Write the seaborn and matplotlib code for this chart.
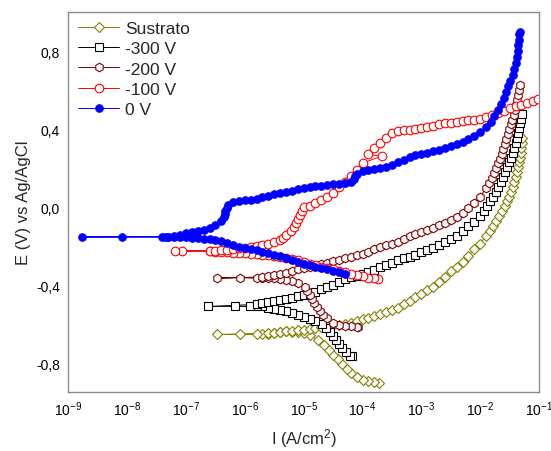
import numpy as np
import matplotlib
matplotlib.use("Agg")
import matplotlib.pyplot as plt
import seaborn as sns
from matplotlib.ticker import LogLocator, MultipleLocator, FuncFormatter, NullFormatter, FixedLocator

sns.set_style("white")
plt.rcParams["font.family"] = ["Liberation Sans", "DejaVu Sans"]
plt.rcParams["mathtext.default"] = "regular"

# ---------------- data: log10 of current density (A/cm2) and potential (V) -------------
# each scan: cathodic branch (from start potential up to Ecorr), then anodic branch
series_names = ["Sustrato", "-300 V", "-200 V", "-100 V", "0 V"]

logi_sub = [-3.716, -3.8, -3.9, -4.0, -4.1, -4.2, -4.269, -4.345, -4.422, -4.498,
            -4.575, -4.660, -4.762, -4.889, -5.0, -5.1, -5.2, -5.3, -5.4, -5.5,
            -5.6, -5.7, -5.79, -6.08, -6.47,
            -5.6, -5.5, -5.4, -5.3, -5.2, -5.1, -5.0, -4.9, -4.8, -4.7,
            -4.6, -4.5, -4.4, -4.3, -4.2, -4.1, -4.0, -3.9, -3.8, -3.7,
            -3.6, -3.5, -3.4, -3.3, -3.2, -3.1, -3.0, -2.9, -2.8, -2.7,
            -2.6, -2.5, -2.4, -2.3, -2.2, -2.1, -2.0, -1.9, -1.833, -1.777,
            -1.726, -1.675, -1.628, -1.582, -1.543, -1.505, -1.474, -1.446, -1.420, -1.395,
            -1.372, -1.355, -1.340, -1.327, -1.315, -1.305, -1.294, -1.284]
e_sub = [-0.901, -0.898, -0.893, -0.885, -0.870, -0.852, -0.830, -0.805, -0.780, -0.755,
         -0.730, -0.705, -0.680, -0.655, -0.646, -0.641, -0.637, -0.635, -0.638, -0.643,
         -0.647, -0.650, -0.652, -0.652, -0.652,
         -0.645, -0.642, -0.639, -0.635, -0.632, -0.630, -0.628, -0.626, -0.621, -0.615,
         -0.609, -0.605, -0.602, -0.599, -0.593, -0.584, -0.574, -0.566, -0.557, -0.547,
         -0.537, -0.527, -0.514, -0.496, -0.478, -0.460, -0.444, -0.426, -0.406, -0.382,
         -0.355, -0.329, -0.306, -0.278, -0.247, -0.214, -0.186, -0.147, -0.120, -0.095,
         -0.070, -0.045, -0.020, 0.005, 0.030, 0.055, 0.080, 0.105, 0.130, 0.155,
         0.180, 0.205, 0.230, 0.255, 0.280, 0.305, 0.330, 0.355]

logi_300 = [-4.175, -4.218, -4.286, -4.345, -4.405, -4.456, -4.507, -4.558, -4.617, -4.685,
            -4.8, -4.9, -5.0, -5.1, -5.2, -5.3, -5.4, -5.5, -5.6, -5.7,
            -5.8, -5.91, -6.165, -6.624,
            -5.8, -5.7, -5.6, -5.5, -5.4, -5.3, -5.2, -5.1, -5.0, -4.9,
            -4.8, -4.7, -4.6, -4.5, -4.4, -4.3, -4.2, -4.1, -4.0, -3.9,
            -3.8, -3.7, -3.6, -3.5, -3.4, -3.3, -3.2, -3.1, -3.0, -2.9,
            -2.8, -2.7, -2.6, -2.5, -2.4, -2.3, -2.2, -2.1, -2.0, -1.934,
            -1.879, -1.828, -1.777, -1.735, -1.692, -1.650, -1.611, -1.573, -1.539, -1.505,
            -1.474, -1.446, -1.420, -1.398, -1.378, -1.357, -1.338, -1.321, -1.306, -1.293]
e_300 = [-0.763, -0.760, -0.740, -0.720, -0.700, -0.680, -0.660, -0.640, -0.620, -0.600,
         -0.583, -0.573, -0.563, -0.552, -0.542, -0.534, -0.528, -0.521, -0.514, -0.508,
         -0.507, -0.508, -0.508, -0.508,
         -0.498, -0.493, -0.487, -0.482, -0.475, -0.469, -0.463, -0.456, -0.450, -0.442,
         -0.432, -0.421, -0.409, -0.396, -0.384, -0.370, -0.358, -0.350, -0.341, -0.332,
         -0.321, -0.308, -0.296, -0.283, -0.270, -0.262, -0.253, -0.242, -0.231, -0.219,
         -0.206, -0.193, -0.178, -0.163, -0.146, -0.123, -0.098, -0.073, -0.042, -0.020,
         0.005, 0.030, 0.055, 0.080, 0.105, 0.130, 0.155, 0.180, 0.205, 0.230,
         0.255, 0.280, 0.305, 0.330, 0.355, 0.380, 0.405, 0.430, 0.455, 0.480]

logi_200 = [-4.07, -4.1, -4.2, -4.3, -4.4, -4.5, -4.6, -4.68, -4.73, -4.78,
            -4.82, -4.86, -4.90, -4.94, -4.98, -5.1, -5.2, -5.3, -5.4, -5.5,
            -5.6, -5.7, -5.8, -6.08, -6.48,
            -5.7, -5.6, -5.5, -5.4, -5.3, -5.2, -5.1, -5.0, -4.9, -4.8,
            -4.7, -4.6, -4.5, -4.4, -4.3, -4.2, -4.1, -4.0, -3.9, -3.8,
            -3.7, -3.6, -3.5, -3.4, -3.3, -3.2, -3.1, -3.0, -2.9, -2.8,
            -2.7, -2.6, -2.5, -2.4, -2.3, -2.2, -2.1, -2.0, -1.9, -1.845,
            -1.806, -1.769, -1.735, -1.699, -1.667, -1.638, -1.611, -1.582, -1.556, -1.531,
            -1.505, -1.480, -1.458, -1.434, -1.413, -1.393, -1.376, -1.355, -1.338, -1.318]
e_200 = [-0.614, -0.613, -0.611, -0.609, -0.603, -0.591, -0.568, -0.550, -0.530, -0.510,
         -0.490, -0.470, -0.450, -0.430, -0.410, -0.389, -0.378, -0.371, -0.367, -0.364,
         -0.363, -0.363, -0.363, -0.361, -0.363,
         -0.357, -0.353, -0.348, -0.343, -0.335, -0.326, -0.315, -0.309, -0.305, -0.299,
         -0.292, -0.284, -0.276, -0.269, -0.262, -0.255, -0.246, -0.237, -0.227, -0.215,
         -0.204, -0.194, -0.186, -0.176, -0.163, -0.148, -0.137, -0.127, -0.116, -0.105,
         -0.092, -0.079, -0.065, -0.047, -0.027, -0.004, 0.024, 0.055, 0.097, 0.125,
         0.150, 0.175, 0.200, 0.225, 0.250, 0.275, 0.300, 0.325, 0.350, 0.375,
         0.400, 0.425, 0.450, 0.475, 0.500, 0.525, 0.550, 0.575, 0.600, 0.625]

logi_100 = [-3.73, -3.8, -3.9, -4.0, -4.1, -4.2, -4.3, -4.4, -4.5, -4.6,
            -4.7, -4.8, -4.9, -5.0, -5.1, -5.2, -5.3, -5.4, -5.5, -5.6,
            -5.7, -5.8, -5.9, -6.0, -6.1, -6.2, -6.3, -6.4, -6.5, -6.6,
            -7.07, -7.19,
            -6.6, -6.5, -6.4, -6.3, -6.2, -6.1, -6.0, -5.9, -5.8, -5.7,
            -5.6, -5.5, -5.4, -5.35, -5.30, -5.22, -5.17, -5.13, -5.09, -5.07,
            -5.03, -4.99, -4.9, -4.8, -4.7, -4.6, -4.5, -4.4, -4.3, -4.2,
            -4.1, -4.0, -3.67, -3.9, -3.8, -3.7, -3.6, -3.5, -3.4, -3.3,
            -3.2, -3.1, -3.0, -2.9, -2.8, -2.7, -2.6, -2.5, -2.4, -2.3,
            -2.2, -2.1, -2.0, -1.9, -1.8, -1.7, -1.6, -1.5, -1.4, -1.3,
            -1.2, -1.1, -1.01]
e_100 = [-0.368, -0.364, -0.360, -0.354, -0.348, -0.342, -0.333, -0.325, -0.316, -0.310,
         -0.304, -0.297, -0.289, -0.281, -0.272, -0.265, -0.259, -0.255, -0.250, -0.246,
         -0.242, -0.239, -0.238, -0.236, -0.234, -0.232, -0.230, -0.229, -0.227, -0.224,
         -0.224, -0.224,
         -0.223, -0.222, -0.219, -0.217, -0.214, -0.211, -0.208, -0.204, -0.200, -0.194,
         -0.187, -0.178, -0.165, -0.155, -0.140, -0.120, -0.100, -0.080, -0.060, -0.040,
         -0.020, 0.000, 0.009, 0.022, 0.037, 0.055, 0.076, 0.102, 0.130, 0.161,
         0.191, 0.227, 0.263, 0.271, 0.304, 0.332, 0.358, 0.381, 0.391, 0.395,
         0.399, 0.403, 0.408, 0.414, 0.419, 0.426, 0.431, 0.435, 0.438, 0.443,
         0.446, 0.449, 0.453, 0.462, 0.473, 0.484, 0.495, 0.507, 0.518, 0.526,
         0.533, 0.543, 0.555]

logi_0 = [-4.29, -4.4, -4.5, -4.6, -4.7, -4.8, -4.9, -5.0, -5.1, -5.2,
          -5.3, -5.4, -5.5, -5.6, -5.7, -5.8, -5.9, -6.0, -6.1, -6.2,
          -6.3, -6.4, -6.5, -6.6, -6.7, -6.8, -6.9, -7.0, -7.1, -7.2,
          -7.3, -7.4, -8.09, -8.77,
          -7.36, -7.3, -7.2, -7.1, -7.0, -6.9, -6.8, -6.7, -6.6, -6.5,
          -6.4, -6.36, -6.34, -6.33, -6.31, -6.28, -6.2, -6.1, -6.0, -5.9,
          -5.8, -5.7, -5.6, -5.5, -5.4, -5.3, -5.2, -5.1, -5.0, -4.9,
          -4.8, -4.7, -4.6, -4.5, -4.4, -4.3, -4.2, -4.15, -4.13, -4.1,
          -4.0, -3.9, -3.8, -3.7, -3.6, -3.5, -3.4, -3.3, -3.2, -3.1,
          -3.0, -2.9, -2.8, -2.7, -2.6, -2.5, -2.4, -2.3, -2.2, -2.1,
          -2.0, -1.9, -1.82, -1.76, -1.69, -1.64, -1.60, -1.56, -1.52, -1.49,
          -1.45, -1.43, -1.40, -1.38, -1.36, -1.35, -1.34, -1.335, -1.33]
e_0 = [-0.342, -0.333, -0.327, -0.318, -0.311, -0.304, -0.296, -0.288, -0.281, -0.270,
       -0.260, -0.250, -0.242, -0.234, -0.227, -0.219, -0.214, -0.206, -0.201, -0.193,
       -0.183, -0.174, -0.168, -0.164, -0.160, -0.157, -0.155, -0.154, -0.153, -0.152,
       -0.152, -0.152, -0.152, -0.152,
       -0.151, -0.150, -0.146, -0.141, -0.134, -0.128, -0.122, -0.115, -0.104, -0.090,
       -0.068, -0.050, -0.035, -0.020, -0.005, 0.010, 0.026, 0.032, 0.036, 0.040,
       0.045, 0.053, 0.059, 0.066, 0.072, 0.079, 0.086, 0.092, 0.097, 0.103,
       0.107, 0.112, 0.115, 0.118, 0.121, 0.125, 0.130, 0.145, 0.160, 0.171,
       0.186, 0.191, 0.197, 0.204, 0.209, 0.218, 0.230, 0.245, 0.258, 0.266,
       0.272, 0.278, 0.287, 0.296, 0.304, 0.313, 0.324, 0.335, 0.349, 0.366,
       0.386, 0.414, 0.440, 0.470, 0.500, 0.530, 0.560, 0.590, 0.620, 0.650,
       0.680, 0.710, 0.740, 0.770, 0.800, 0.830, 0.860, 0.890, 0.900]

y_ticks = [-0.8, -0.4, 0.0, 0.4, 0.8]

# ---------------- figure ----------------
fig = plt.figure(figsize=(5.51, 4.52), dpi=100)
ax = fig.add_axes([0.124, 0.1305, 0.8543, 0.840])
ax.set_xscale("log")

styles = [
    (logi_sub, e_sub, "#808000", "D", 5.0, "white"),
    (logi_300, e_300, "#000000", "s", 5.2, "white"),
    (logi_200, e_200, "#800000", "h", 6.2, "white"),
    (logi_100, e_100, "#ff0000", "o", 6.2, "white"),
    (logi_0, e_0, "#0000ff", "o", 5.4, "#0000ff"),
]
for name, (li, ee, col, mk, ms, fc) in zip(series_names, styles):
    cur = 10.0 ** np.asarray(li)
    sns.lineplot(x=cur, y=np.asarray(ee), sort=False, estimator=None, ax=ax, color=col,
                 lw=0.7, marker=mk, markersize=ms, markerfacecolor=fc,
                 markeredgecolor=col, markeredgewidth=0.8, label=name)

ax.set_xlim(1e-9, 1e-1)
ax.set_ylim(-0.947, 1.0)

ax.xaxis.set_major_locator(LogLocator(base=10, numticks=20))
ax.xaxis.set_minor_locator(LogLocator(base=10, subs=np.arange(2, 10), numticks=20))
ax.xaxis.set_minor_formatter(NullFormatter())
ax.yaxis.set_major_locator(FixedLocator(y_ticks))
ax.yaxis.set_minor_locator(MultipleLocator(0.2))


def fmt(v, p):
    s = f"{v:.1f}".replace(".", ",")
    return "0,0" if s == "-0,0" else s


ax.yaxis.set_major_formatter(FuncFormatter(fmt))

for sp in ax.spines.values():
    sp.set_color("#8c8c8c")
    sp.set_linewidth(1.0)
    sp.set_visible(True)

ax.tick_params(axis="both", which="both", direction="in", top=False, right=False,
               color="#8c8c8c", width=0.8, labelcolor="black", labelsize=10)
ax.tick_params(axis="x", which="major", length=6, pad=5)
ax.tick_params(axis="x", which="minor", length=3)
ax.tick_params(axis="y", which="both", length=4, pad=6)

ax.set_xlabel("I (A/cm$^2$)", fontsize=12, labelpad=6)
ax.set_ylabel("E (V) vs Ag/AgCl", fontsize=12, labelpad=4)

ax.legend(loc="upper left", bbox_to_anchor=(0.02, 0.978), frameon=False, fontsize=12.5,
          handlelength=2.4, handletextpad=0.35, labelspacing=0.3, borderpad=0,
          borderaxespad=0, numpoints=1)

fig.savefig("out.png", dpi=100)
